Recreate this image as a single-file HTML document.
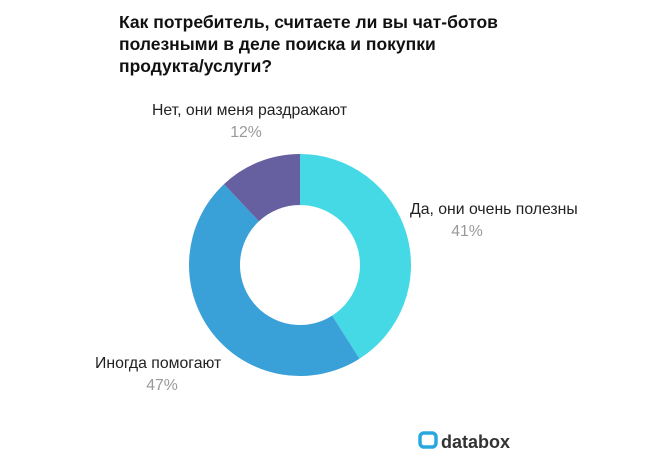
<!DOCTYPE html>
<html><head><meta charset="utf-8"><style>
body{margin:0;background:#fff;width:649px;height:470px;overflow:hidden;font-family:"Liberation Sans",sans-serif;}
</style></head><body>
<svg width="649" height="470" xmlns="http://www.w3.org/2000/svg">
<text font-family="Liberation Sans, sans-serif" font-weight="bold" font-size="17.5" fill="#111">
<tspan x="119" y="28">Как потребитель, считаете ли вы чат-ботов</tspan>
<tspan x="119" y="50">полезными в деле поиска и покупки</tspan>
<tspan x="119" y="72">продукта/услуги?</tspan></text>
<g id="slices"></g>
<g id="labels" font-family="Liberation Sans, sans-serif" font-size="15.8"></g>
<g>
<rect x="420" y="433" width="16" height="14" rx="4" fill="none" stroke="#2aa7df" stroke-width="3.5"/>
<text x="441" y="448" font-size="18" font-weight="bold" fill="#333" font-family="Liberation Sans, sans-serif">databox</text>
</g>
</svg>
<script>
const categories=["Да, они очень полезны","Иногда помогают","Нет, они меня раздражают"];
const values=[41,47,12];
const colors=["#45d9e6","#3aa0d8","#665fa0"];
const cx=300,cy=265,R=111,r=60;
const g=document.getElementById('slices');
const lg=document.getElementById('labels');
const ns="http://www.w3.org/2000/svg";
const total=values.reduce((a,b)=>a+b,0);
let a0=0;
const labelPos=[[410,214,467],[95,368,162],[152,115,246]];
values.forEach((v,i)=>{
  const a1=a0+v/total*2*Math.PI;
  const p=(a,rad)=>[cx+rad*Math.sin(a),cy-rad*Math.cos(a)];
  const large=(a1-a0)>Math.PI?1:0;
  const [x0,y0]=p(a0,R),[x1,y1]=p(a1,R),[x2,y2]=p(a1,r),[x3,y3]=p(a0,r);
  const path=document.createElementNS(ns,'path');
  path.setAttribute('d',`M${x0},${y0}A${R},${R} 0 ${large} 1 ${x1},${y1}L${x2},${y2}A${r},${r} 0 ${large} 0 ${x3},${y3}Z`);
  path.setAttribute('fill',colors[i]);
  
  
  g.appendChild(path);
  const [lx,ly,px]=labelPos[i];
  const t=document.createElementNS(ns,'text');
  t.setAttribute('x',lx);t.setAttribute('y',ly);t.setAttribute('fill','#222');
  t.textContent=categories[i];
  
  
  lg.appendChild(t);
  const t2=document.createElementNS(ns,'text');
  t2.setAttribute('x',px);t2.setAttribute('y',ly+22);t2.setAttribute('fill','#999');
  t2.setAttribute('text-anchor','middle');
  t2.textContent=v+'%';
  
  
  lg.appendChild(t2);
  a0=a1;
});
</script>
</body></html>
